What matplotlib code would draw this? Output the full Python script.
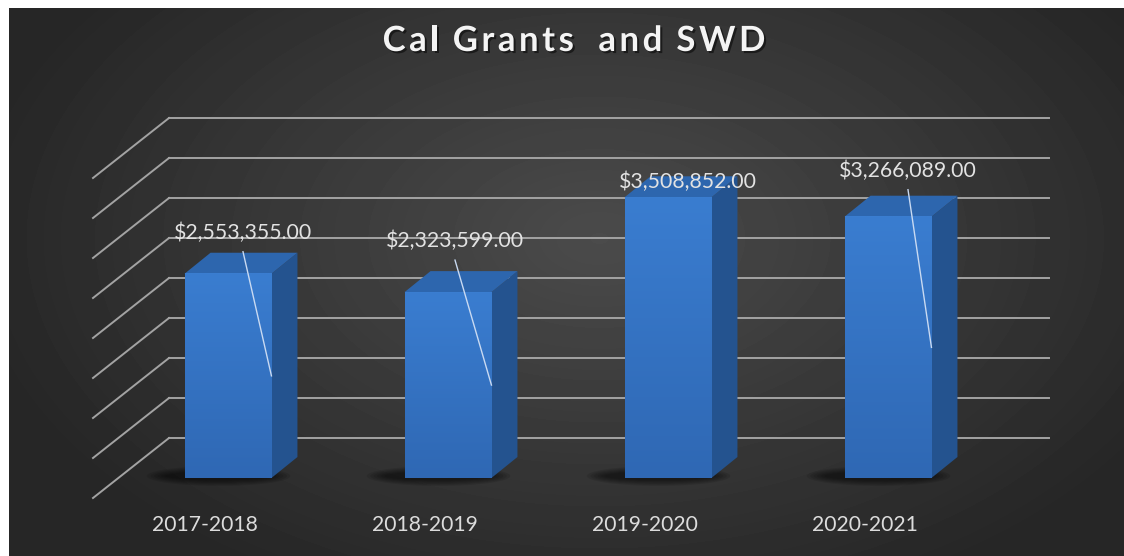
import numpy as np
import matplotlib
matplotlib.use('Agg')
import matplotlib.pyplot as plt
from matplotlib.patches import Polygon, Ellipse
import matplotlib.patheffects as pe

# data
years = ['2017-2018', '2018-2019', '2019-2020', '2020-2021']
amounts = [2553355.00, 2323599.00, 3508852.00, 3266089.00]
grid_vals = np.arange(0, 4000001, 500000)
title = 'Cal Grants  and SWD'

# label offsets in pixels from the top-centre of each bar front (dragged labels in excel)
lbl_off = [(15, 41), (7, 51), (20, 15), (20, 46)]
show_leader = [True, True, False, True]

W, H, DPI = 1124, 556, 100
fig = plt.figure(figsize=(W / DPI, H / DPI), dpi=DPI, facecolor='white')
FONT = ['Lato', 'DejaVu Sans']

# background with radial gradient (chart area starts after a thin white margin)
bg = fig.add_axes([9 / W, 0, 1 - 9 / W, 1 - 8 / H])
bg.set_axis_off()
yy, xx = np.mgrid[0:548, 0:1115]
r = np.sqrt(((xx - 590) / 700.0) ** 2 + ((yy - 230) / 430.0) ** 2)
shade = np.clip(0.295 - 0.16 * r, 0.15, 0.30)
bg.imshow(shade, cmap='gray', vmin=0, vmax=1, aspect='auto', extent=(0, 1, 0, 1), origin='upper')
bg.set_xlim(0, 1)
bg.set_ylim(0, 1)

# main axes = front plane of the bars
ax = fig.add_axes([118 / W, 78 / H, 880 / W, 320 / H])
ax.set_xlim(-0.5, 3.5)
ax.set_ylim(0, 4000000)
ax.set_axis_off()

inv = ax.transData.inverted()


def shift(x, y, dx, dy):
    px = ax.transData.transform((x, y))
    return inv.transform((px[0] + dx, px[1] + dy))


BACK = (51, 40)
FRONT = (-25, -20)
DEPTH = (26, 21)
grid_col = '#a3a3a3'

# back wall gridlines + left wall diagonals
for v in grid_vals:
    b0 = shift(-0.5, v, *BACK)
    b1 = shift(3.5, v, *BACK)
    f0 = shift(-0.5, v, *FRONT)
    ax.plot([b0[0], b1[0]], [b0[1], b1[1]], color=grid_col, lw=1.4, clip_on=False, zorder=1)
    ax.plot([f0[0], b0[0]], [f0[1], b0[1]], color=grid_col, lw=1.4, clip_on=False, zorder=1)

bw = 0.395
grad = np.linspace(0, 1, 100).reshape(-1, 1)
front_cmap = matplotlib.colors.LinearSegmentedColormap.from_list('f', ['#3a7dd0', '#2f68b4'])
for i, v in enumerate(amounts):
    x0, x1 = i - bw / 2, i + bw / 2
    # soft shadow on the floor
    for k in range(6):
        c = shift(i - 0.02, 0, -5, 2)
        e = Ellipse(c, width=bw * (1.25 + 0.08 * k), height=110000 * (1 + 0.25 * k),
                    facecolor='black', alpha=0.10, lw=0, zorder=2, clip_on=False)
        ax.add_patch(e)
    # side face
    side = [(x1, 0), (x1, v), shift(x1, v, *DEPTH), shift(x1, 0, *DEPTH)]
    ax.add_patch(Polygon(side, closed=True, facecolor='#24538f', edgecolor='none', zorder=3, clip_on=False))
    # top face
    top = [(x0, v), (x1, v), shift(x1, v, *DEPTH), shift(x0, v, *DEPTH)]
    ax.add_patch(Polygon(top, closed=True, facecolor='#2d66ae', edgecolor='none', zorder=3, clip_on=False))
    # front face with a slight vertical gradient
    ax.imshow(grad, cmap=front_cmap, aspect='auto', extent=(x0, x1, 0, v),
              origin='upper', zorder=4, clip_on=False)

    # data label and leader line
    dx, dy = lbl_off[i]
    lx, ly = shift(i, v, dx, dy)
    ax.text(lx, ly, '${:,.2f}'.format(v), ha='center', va='center', fontsize=15.3, color='#e2e2e2',
            family=FONT, zorder=6, clip_on=False)
    if show_leader[i]:
        s = shift(i, v, dx, dy - 19)
        ax.plot([s[0], x1], [s[1], v / 2], color='#c9daf2', lw=1.0, zorder=5, clip_on=False)

    # category label on the floor front edge
    cx, cy = shift(i, 0, -23, -47)
    ax.text(cx, cy, years[i], ha='center', va='center', fontsize=15.2, color='#dcdcdc',
            family=FONT, zorder=6, clip_on=False)

ax.set_xlim(-0.5, 3.5)
ax.set_ylim(0, 4000000)

# title with extra letter spacing like the excel one
renderer = fig.canvas.get_renderer()
tkw = dict(fontsize=25, fontweight='bold', color='#f4f4f4', family=FONT, va='center', ha='left')
widths = []
for ch in title:
    if ch == ' ':
        widths.append(7.0)
        continue
    t = fig.text(0, 0, ch, **tkw)
    widths.append(t.get_window_extent(renderer).width)
    t.remove()
track = 3.5
total = sum(widths) + track * (len(title) - 1)
xpos = 574 - total / 2
for ch, w in zip(title, widths):
    if ch != ' ':
        fig.text(xpos / W, 1 - 41 / H, ch, **tkw,
                 path_effects=[pe.withSimplePatchShadow(offset=(1.5, -1.5), shadow_rgbFace='black', alpha=0.5)])
    xpos += w + track

fig.savefig('out.png', dpi=DPI, facecolor=fig.get_facecolor())
